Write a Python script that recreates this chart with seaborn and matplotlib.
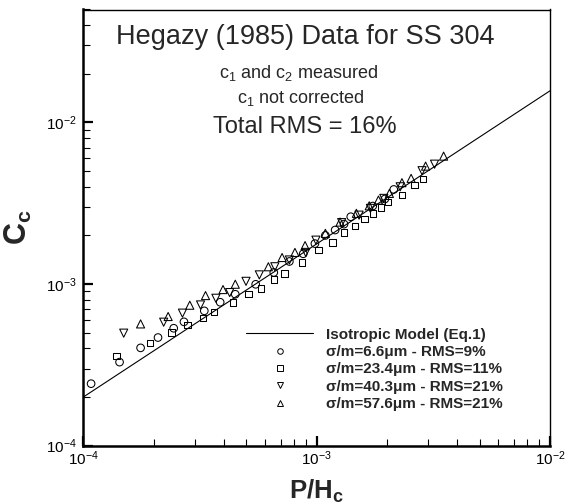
import numpy as np
import pandas as pd
import matplotlib
matplotlib.use("Agg")
import matplotlib.pyplot as plt
from matplotlib.lines import Line2D
from matplotlib.ticker import LogLocator, LogFormatterMathtext, NullFormatter
import seaborn as sns

# ---------------- data ----------------
model_x = [1e-4, 1e-2]
model_y = [2.0e-4, 1.57e-2]

circ_x = [1.08e-4, 1.43e-4, 1.76e-4, 2.09e-4, 2.44e-4, 2.70e-4, 3.30e-4, 3.86e-4, 4.48e-4,
          5.48e-4, 6.55e-4, 7.64e-4, 8.76e-4, 9.83e-4, 1.09e-3, 1.20e-3, 1.31e-3, 1.40e-3,
          1.74e-3, 1.96e-3, 2.14e-3]
circ_y = [2.42e-4, 3.29e-4, 4.03e-4, 4.67e-4, 5.33e-4, 5.84e-4, 6.83e-4, 7.72e-4, 8.65e-4,
          9.97e-4, 1.18e-3, 1.38e-3, 1.54e-3, 1.78e-3, 2.00e-3, 2.16e-3, 2.35e-3, 2.61e-3,
          3.04e-3, 3.36e-3, 3.85e-3]

sq_x = [1.39e-4, 1.93e-4, 2.39e-4, 2.79e-4, 3.26e-4, 3.63e-4, 4.39e-4, 5.10e-4, 5.78e-4,
        6.55e-4, 7.27e-4, 8.67e-4, 1.02e-3, 1.17e-3, 1.31e-3, 1.46e-3, 1.60e-3, 1.74e-3,
        1.89e-3, 2.02e-3, 2.32e-3, 2.63e-3, 2.85e-3]
sq_y = [3.60e-4, 4.31e-4, 5.01e-4, 5.59e-4, 6.15e-4, 6.70e-4, 7.72e-4, 8.69e-4, 9.42e-4,
        1.07e-3, 1.16e-3, 1.36e-3, 1.63e-3, 1.81e-3, 2.09e-3, 2.29e-3, 2.52e-3, 2.74e-3,
        2.98e-3, 3.21e-3, 3.56e-3, 4.10e-3, 4.47e-3]

dn_x = [1.49e-4, 2.21e-4, 2.66e-4, 3.18e-4, 3.70e-4, 4.24e-4, 4.98e-4, 5.68e-4, 6.62e-4,
        7.64e-4, 8.98e-4, 9.93e-4, 1.28e-3, 1.52e-3, 1.70e-3, 1.94e-3, 2.28e-3, 2.83e-3,
        3.20e-3]
dn_y = [4.97e-4, 5.81e-4, 6.61e-4, 7.43e-4, 8.17e-4, 8.86e-4, 1.04e-3, 1.14e-3, 1.28e-3,
        1.41e-3, 1.57e-3, 1.87e-3, 2.40e-3, 2.67e-3, 2.94e-3, 3.39e-3, 4.00e-3, 5.03e-3,
        5.52e-3]

up_x = [1.76e-4, 2.31e-4, 2.86e-4, 3.34e-4, 3.97e-4, 4.48e-4, 6.21e-4, 7.11e-4, 8.07e-4,
        8.92e-4, 1.09e-3, 1.26e-3, 1.48e-3, 1.68e-3, 1.84e-3, 2.05e-3, 2.32e-3, 2.54e-3,
        2.93e-3, 3.50e-3]
up_y = [5.67e-4, 6.30e-4, 7.40e-4, 8.49e-4, 9.25e-4, 9.98e-4, 1.28e-3, 1.46e-3, 1.57e-3,
        1.73e-3, 2.06e-3, 2.42e-3, 2.74e-3, 3.05e-3, 3.31e-3, 3.64e-3, 4.24e-3, 4.51e-3,
        5.37e-3, 6.19e-3]

model_label = "Isotropic Model (Eq.1)"
series_labels = ["σ/m=6.6μm - RMS=9%", "σ/m=23.4μm - RMS=11%",
                 "σ/m=40.3μm - RMS=21%", "σ/m=57.6μm - RMS=21%"]
series_markers = ["o", "s", "v", "^"]

# ---------------- style ----------------
sns.set_style("white")
plt.rcParams["font.family"] = ["Liberation Sans", "DejaVu Sans"]
plt.rcParams["mathtext.fontset"] = "custom"
plt.rcParams["mathtext.rm"] = "Liberation Sans"
plt.rcParams["mathtext.it"] = "Liberation Sans:italic"
plt.rcParams["mathtext.bf"] = "Liberation Sans:bold"

W, H = 565, 504
fig = plt.figure(figsize=(W / 100, H / 100), dpi=100)
L, R, T, B = 83.3, 550.0, 9.5, 445.7
ax = fig.add_axes([L / W, 1 - B / H, (R - L) / W, (B - T) / H])

sns.lineplot(x=model_x, y=model_y, ax=ax, color="black", lw=0.8, legend=False)

series = [(circ_x, circ_y), (sq_x, sq_y), (dn_x, dn_y), (up_x, up_y)]
msizes = [30, 22, 34, 34]
for (xs, ys), mk, ms in zip(series, series_markers, msizes):
    df = pd.DataFrame({"x": xs, "y": ys})
    sns.scatterplot(data=df, x="x", y="y", ax=ax, marker=mk, s=ms,
                    facecolors="none", edgecolor="black", linewidth=0.75, legend=False)

ax.set_xscale("log")
ax.set_yscale("log")
ax.set_xlim(1e-4, 1e-2)
ax.set_ylim(1e-4, 5e-2)

ax.xaxis.set_major_locator(LogLocator(base=10, numticks=10))
ax.yaxis.set_major_locator(LogLocator(base=10, numticks=10))
ax.xaxis.set_minor_locator(LogLocator(base=10, subs=np.arange(2, 10), numticks=20))
ax.yaxis.set_minor_locator(LogLocator(base=10, subs=np.arange(2, 10), numticks=20))
ax.xaxis.set_major_formatter(LogFormatterMathtext())
ax.yaxis.set_major_formatter(LogFormatterMathtext())
ax.xaxis.set_minor_formatter(NullFormatter())
ax.yaxis.set_minor_formatter(NullFormatter())

ax.tick_params(which="both", direction="in", top=False, right=False,
               bottom=True, left=True, labelsize=11, colors="black")
ax.tick_params(which="major", length=7.5, width=1.6)
ax.tick_params(axis="y", which="major", pad=4.5)
ax.tick_params(axis="x", which="major", pad=2.5)
ax.tick_params(which="minor", length=4.8, width=0.8)

for side in ["left", "bottom"]:
    ax.spines[side].set_linewidth(1.8)
for side in ["top", "right"]:
    ax.spines[side].set_linewidth(1.0)
for sp in ax.spines.values():
    sp.set_color("black")

ax.set_xlabel(r"$\mathbf{P/H_c}$", fontsize=18.5, labelpad=7)
ax.set_ylabel(r"$\mathbf{C_c}$", fontsize=22, labelpad=9)

# ---------------- annotations ----------------
fig.text(305 / W, 1 - 36.7 / H, "Hegazy (1985) Data for SS 304", ha="center", va="center", fontsize=19.5)
fig.text(299 / W, 1 - 72.7 / H, r"c$_1$ and c$_2$ measured", ha="center", va="center", fontsize=13)
fig.text(301 / W, 1 - 98 / H, r"c$_1$ not corrected", ha="center", va="center", fontsize=13)
fig.text(305 / W, 1 - 127 / H, "Total RMS = 16%", ha="center", va="center", fontsize=17)

# ---------------- legend ----------------
handles = [Line2D([], [], color="black", lw=0.8)]
for mk in series_markers:
    handles.append(Line2D([], [], ls="none", marker=mk, markersize=4,
                          markerfacecolor="none", markeredgecolor="black", markeredgewidth=0.7))
labels = [model_label] + series_labels
leg = ax.legend(handles, labels, loc="upper left", bbox_to_anchor=(246 / W, 1 - 327.5 / H),
                bbox_transform=fig.transFigure, frameon=False, borderpad=0, borderaxespad=0,
                handlelength=4.4, handletextpad=0.85, labelspacing=0.22,
                prop={"weight": "bold", "size": 11})

fig.savefig("out.png", dpi=100)
